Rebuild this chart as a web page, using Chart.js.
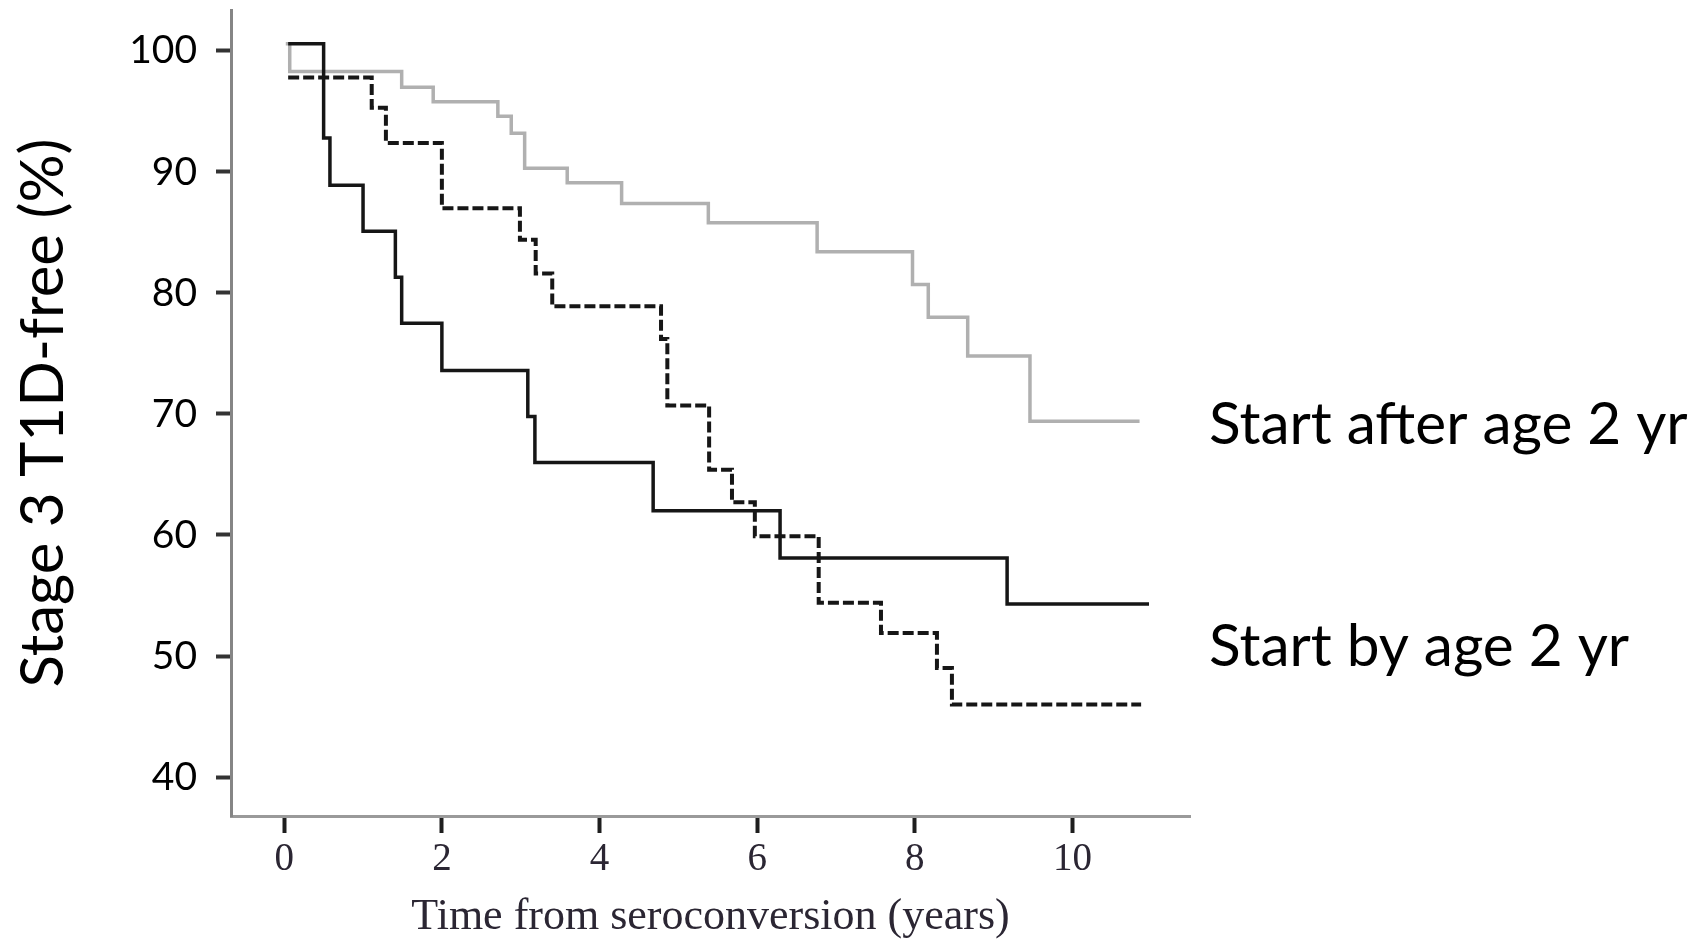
<!DOCTYPE html>
<html>
<head>
<meta charset="utf-8">
<title>Stage 3 T1D-free</title>
<script src="https://cdn.jsdelivr.net/npm/chart.js@4.4.1/dist/chart.umd.min.js"></script>
<style>
  html, body { margin: 0; padding: 0; background: #fff; }
  #wrap { width: 1701px; height: 939px; }
</style>
</head>
<body>
<div id="wrap"><canvas id="kmChart" width="1701" height="939"></canvas></div>
<script>
// step times (years) and the % T1D-free from that time on
const solidTimes  = [0.05, 0.5, 0.58, 1.0, 1.41, 1.49, 2.0, 3.09, 3.18, 4.68, 6.29, 9.17, 10.97];
const solidValues = [100.6, 92.8, 88.9, 85.1, 81.3, 77.5, 73.6, 69.8, 66.0, 62.0, 58.1, 54.3, 54.3];

const dashedTimes  = [0.05, 1.11, 1.29, 2.0, 2.99, 3.19, 3.40, 4.78, 4.86, 5.39, 5.68, 5.97, 6.78, 7.57, 8.28, 8.47, 10.87];
const dashedValues = [97.8, 95.3, 92.4, 87.0, 84.4, 81.6, 78.9, 76.2, 70.7, 65.4, 62.7, 59.9, 54.4, 51.9, 49.0, 46.0, 46.0];

const grayTimes  = [0.02, 0.07, 1.49, 1.89, 2.71, 2.88, 3.05, 3.59, 4.28, 5.38, 6.76, 7.97, 8.17, 8.67, 9.46, 10.85];
const grayValues = [100.6, 98.3, 97.0, 95.8, 94.6, 93.2, 90.3, 89.1, 87.4, 85.8, 83.4, 80.7, 78.0, 74.8, 69.4, 69.4];

const xTicks = [0, 2, 4, 6, 8, 10];
const yTicks = [40, 50, 60, 70, 80, 90, 100];

const sideLabels = ['Start after age 2 yr', 'Start by age 2 yr'];

function toPoints(times, values) {
    return times.map(function(t, i) { return { x: t, y: values[i] }; });
}

// the two group names sit to the right of the plot
const sideLabelPlugin = {
    id: 'sideLabels',
    afterDraw(chart) {
        const ctx = chart.ctx;
        const left = chart.chartArea.right + 19;
        ctx.save();
        ctx.font = '58.5px Lato';
        ctx.fillStyle = '#000';
        ctx.textBaseline = 'alphabetic';
        ctx.textAlign = 'left';
        ctx.fillText(sideLabels[0], left, 444);
        ctx.fillText(sideLabels[1], left, 666);
        ctx.restore();
    }
};

const ctx = document.getElementById('kmChart');

new Chart(ctx, {
    type: 'line',
    data: {
        datasets: [
            {
                data: toPoints(solidTimes, solidValues),
                borderColor: '#161616',
                borderWidth: 3.5,
                stepped: 'before',
                pointRadius: 0,
                fill: false
            },
            {
                data: toPoints(dashedTimes, dashedValues),
                borderColor: '#161616',
                borderWidth: 4,
                borderDash: [11, 4],
                stepped: 'before',
                pointRadius: 0,
                fill: false
            },
            {
                data: toPoints(grayTimes, grayValues),
                borderColor: '#b0b0b0',
                borderWidth: 3.5,
                stepped: 'before',
                pointRadius: 0,
                fill: false
            }
        ]
    },
    options: {
        responsive: false,
        animation: false,
        layout: {
            padding: { left: 8, top: 10, right: 511, bottom: 0 }
        },
        plugins: {
            legend: { display: false },
            tooltip: { enabled: false }
        },
        scales: {
            x: {
                type: 'linear',
                min: -0.675,
                max: 11.49,
                afterBuildTicks: function(scale) {
                    scale.ticks = xTicks.map(function(v) { return { value: v }; });
                },
                afterFit: function(scale) {
                    scale.height = 123;
                    scale.paddingLeft = 0;
                    scale.paddingRight = 0;
                },
                grid: {
                    drawOnChartArea: false,
                    drawTicks: true,
                    tickLength: 17,
                    tickWidth: 4,
                    tickColor: '#1e1e1e'
                },
                border: { display: true, color: '#9a9a9a', width: 3 },
                ticks: {
                    padding: 3,
                    autoSkip: false,
                    maxRotation: 0,
                    color: '#2b2633',
                    font: { family: 'Liberation Serif', size: 39 }
                },
                title: {
                    display: true,
                    text: 'Time from seroconversion (years)',
                    color: '#2b2633',
                    padding: 0,
                    font: { family: 'Liberation Serif', size: 44, lineHeight: 1 }
                }
            },
            y: {
                type: 'linear',
                min: 36.78,
                max: 103.38,
                afterBuildTicks: function(scale) {
                    scale.ticks = yTicks.map(function(v) { return { value: v }; });
                },
                afterFit: function(scale) {
                    scale.width = 231 - 8;
                    scale.paddingTop = 0;
                    scale.paddingBottom = 0;
                },
                grid: {
                    drawOnChartArea: false,
                    drawTicks: true,
                    tickLength: 15,
                    tickWidth: 4,
                    tickColor: '#333'
                },
                border: { display: true, color: '#858585', width: 3 },
                ticks: {
                    padding: 19,
                    color: '#000',
                    font: { family: 'Lato', size: 39 }
                },
                title: {
                    display: true,
                    text: 'Stage 3 T1D-free (%)',
                    color: '#000',
                    padding: 0,
                    font: { family: 'Lato', size: 60, lineHeight: 1.2 }
                }
            }
        }
    },
    plugins: [sideLabelPlugin]
});
</script>
</body>
</html>
